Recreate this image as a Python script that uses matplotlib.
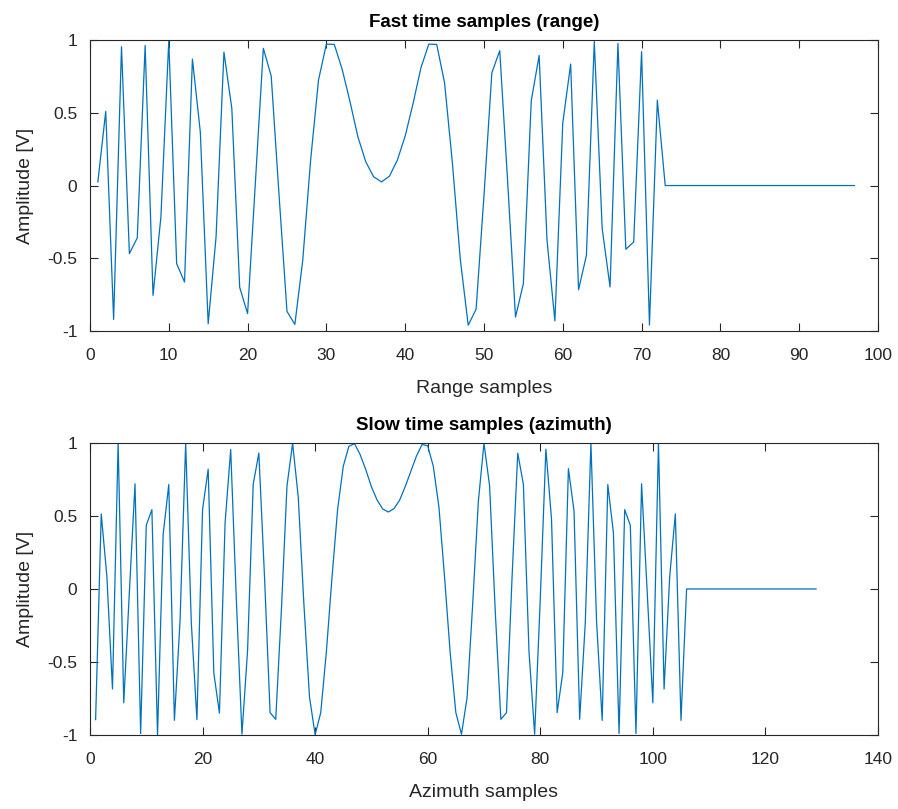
import matplotlib
matplotlib.use("Agg")
import matplotlib.pyplot as plt
from matplotlib.ticker import FuncFormatter

plt.rcParams['font.family'] = ['Liberation Sans', 'DejaVu Sans']

# ---- data ----
range_values = [0.025, 0.51, -0.92, 0.954, -0.468, -0.36, 0.963, -0.755, -0.216, 0.995,
                -0.537, -0.663, 0.869, 0.369, -0.95, -0.353, 0.917, 0.53, -0.70, -0.88,
                0.03, 0.943, 0.752, -0.07, -0.865, -0.954, -0.514, 0.174, 0.725, 0.972,
                0.97, 0.80, 0.576, 0.335, 0.163, 0.06, 0.025, 0.064, 0.174, 0.34,
                0.564, 0.81, 0.972, 0.97, 0.706, 0.15, -0.51, -0.96, -0.85, -0.07,
                0.775, 0.927, 0.03, -0.904, -0.674, 0.583, 0.894, -0.376, -0.93, 0.43,
                0.835, -0.716, -0.48, 0.99, -0.296, -0.697, 0.977, -0.438, -0.388, 0.92,
                -0.959, 0.587] + [0.0] * 25

azimuth_values = [-0.895, 0.514, 0.087, -0.685, 1.0, -0.78, -0.02, 0.72, -0.99, 0.436,
                  0.543, -1.0, 0.372, 0.715, -0.90, -0.22, 1.0, -0.23, -0.895, 0.543,
                  0.82, -0.575, -0.85, 0.45, 0.955, -0.07, -0.995, -0.42, 0.717, 0.93,
                  0.09, -0.847, -0.893, -0.15, 0.705, 0.998, 0.63, -0.1, -0.74, -0.998,
                  -0.847, -0.43, 0.08, 0.546, 0.84, 0.977, 0.995, 0.92, 0.817, 0.70,
                  0.61, 0.548, 0.527, 0.55, 0.607, 0.70, 0.806, 0.91, 0.99, 0.98,
                  0.84, 0.56, 0.08, -0.44, -0.847, -0.995, -0.744, -0.1, 0.6, 0.998,
                  0.705, -0.15, -0.893, -0.847, 0.09, 0.93, 0.717, -0.43, -0.995, -0.07,
                  0.957, 0.477, -0.847, -0.573, 0.824, 0.534, -0.893, -0.23, 1.0, -0.22,
                  -0.9, 0.715, 0.384, -0.99, 0.543, 0.436, -0.99, 0.72, -0.02, -0.78,
                  1.0, -0.685, 0.087, 0.514, -0.9] + [0.0] * 24

range_samples = list(range(1, len(range_values) + 1))
azimuth_samples = list(range(1, len(azimuth_values) + 1))

range_xticks = list(range(0, 101, 10))
azimuth_xticks = list(range(0, 141, 20))
yticks = [-1, -0.5, 0, 0.5, 1]

LINE_COLOR = '#0072BD'
AX_COLOR = '#262626'

fig = plt.figure(figsize=(8.98, 8.09), dpi=100)
ax1 = fig.add_axes([0.1002, 0.5908, 0.8775, 0.3597])
ax2 = fig.add_axes([0.1002, 0.0915, 0.8775, 0.3610])

def fmt(v, pos):
    if abs(v - round(v)) < 1e-9:
        s = '%d' % round(v)
    else:
        s = ('%g' % v)
    return s

panels = [
    (ax1, range_samples, range_values, (0, 100), range_xticks,
     'Fast time samples (range)', 'Range samples'),
    (ax2, azimuth_samples, azimuth_values, (0, 140), azimuth_xticks,
     'Slow time samples (azimuth)', 'Azimuth samples'),
]

for ax, xs, ys, xlim, xt, title, xlabel in panels:
    ax.plot(xs, ys, color=LINE_COLOR, linewidth=0.9)
    ax.set_xlim(*xlim)
    ax.set_ylim(-1, 1)
    ax.set_xticks(xt)
    ax.set_yticks(yticks)
    ax.xaxis.set_major_formatter(FuncFormatter(fmt))
    ax.yaxis.set_major_formatter(FuncFormatter(fmt))
    ax.tick_params(direction='in', length=5.7, width=0.8, colors=AX_COLOR,
                   labelsize=12.5, top=True, right=True)
    ax.tick_params(axis='x', pad=12)
    ax.tick_params(axis='y', pad=9)
    for sp in ax.spines.values():
        sp.set_color(AX_COLOR)
        sp.set_linewidth(0.8)
    ax.set_title(title, fontsize=13.5, fontweight='bold', color='black', pad=9.5)
    ax.set_xlabel(xlabel, fontsize=14, color=AX_COLOR, labelpad=12.5)
    ax.set_ylabel('Amplitude [V]', fontsize=14, color=AX_COLOR, labelpad=9.5)

fig.savefig('out.png', dpi=100)
